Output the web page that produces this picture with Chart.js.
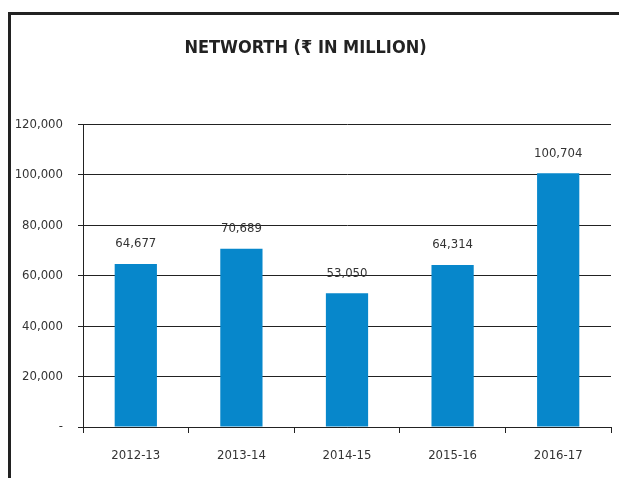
<!DOCTYPE html>
<html>
<head>
<meta charset="utf-8">
<script src="https://cdn.jsdelivr.net/npm/chart.js@4.4.1/dist/chart.umd.min.js"></script>
<style>
  html, body { margin: 0; padding: 0; background: #fff; }
  #wrap { position: relative; width: 619px; height: 478px; overflow: hidden; }
  #frame {
    position: absolute; left: 8px; top: 12px; width: 700px; height: 600px;
    border-left: 3px solid #222; border-top: 3px solid #222; box-sizing: border-box;
  }
  #c { position: absolute; left: 0; top: 0; }
</style>
</head>
<body>
<div id="wrap">
  <div id="frame"></div>
  <canvas id="c" width="619" height="478"></canvas>
</div>
<script>
const categories = ['2012-13', '2013-14', '2014-15', '2015-16', '2016-17'];
const networth = [64677, 70689, 53050, 64314, 100704];
const yTicks = [0, 20000, 40000, 60000, 80000, 100000, 120000];
const titleText = 'NETWORTH (₹ IN MILLION)';

const FONT = "'DejaVu Sans Condensed', 'DejaVu Sans', sans-serif";
const fmt = v => v === 0 ? '-' : v.toLocaleString('en-US');

// Value labels above each bar
const valueLabels = {
  id: 'valueLabels',
  afterDatasetsDraw(chart) {
    const ctx = chart.ctx;
    const meta = chart.getDatasetMeta(0);
    ctx.save();
    ctx.font = '13px ' + FONT;
    ctx.fillStyle = '#333';
    ctx.textAlign = 'center';
    ctx.textBaseline = 'middle';
    meta.data.forEach((bar, i) => {
      ctx.fillText(fmt(networth[i]), bar.x, bar.y - 20);
    });
    ctx.restore();
  }
};

new Chart(document.getElementById('c'), {
  type: 'bar',
  data: {
    labels: categories,
    datasets: [{
      data: networth,
      backgroundColor: '#0787cb',
      borderWidth: 0,
      categoryPercentage: 1,
      barPercentage: 0.4
    }]
  },
  options: {
    responsive: false,
    animation: false,
    events: [],
    layout: { padding: { left: 0, right: 8, top: 0, bottom: 0 } },
    plugins: {
      legend: { display: false },
      tooltip: { enabled: false },
      title: {
        display: true,
        text: titleText,
        color: '#222',
        font: { family: FONT, size: 18, weight: 'bold', lineHeight: 1.2 },
        padding: { top: 38, bottom: 65 }
      }
    },
    scales: {
      x: {
        grid: { display: true, drawOnChartArea: false, drawTicks: true, tickLength: 6, color: '#222', offset: true },
        border: { display: true, color: '#222', width: 1 },
        ticks: { color: '#333', font: { family: FONT, size: 13 }, padding: 15 },
        afterFit(scale) { scale.height = 51; }
      },
      y: {
        min: 0,
        max: 120000,
        afterBuildTicks(scale) { scale.ticks = yTicks.map(v => ({ value: v })); },
        grid: { color: '#222', lineWidth: 1, tickLength: 5 },
        border: { display: true, color: '#222', width: 1 },
        ticks: {
          color: '#333',
          font: { family: FONT, size: 13 },
          padding: 15,
          callback: v => fmt(v)
        },
        afterFit(scale) { scale.width = 83; }
      }
    }
  },
  plugins: [valueLabels]
});
</script>
</body>
</html>
